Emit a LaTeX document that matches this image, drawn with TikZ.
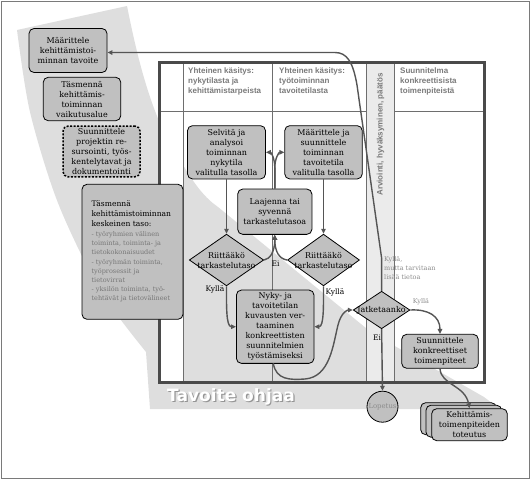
\documentclass[tikz,border=0pt]{standalone}
\usepackage{fontspec}
\setmainfont{DejaVu Serif}
\newfontfamily\hdrfont{Liberation Sans}
\newfontfamily\tavfont{DejaVu Sans}
\usetikzlibrary{arrows.meta,shapes.geometric}
\definecolor{boxgray}{HTML}{C0C0C0}
\definecolor{bandcol}{HTML}{DEDEDE}
\definecolor{framecol}{HTML}{4A4A4A}
\definecolor{conncol}{HTML}{555555}
\definecolor{hdrgray}{HTML}{7A7A7A}
\definecolor{lblgray}{HTML}{8C8C8C}
\definecolor{itemgray}{HTML}{777777}
\definecolor{hatchcol}{HTML}{EBEBEB}
\begin{document}
\begin{tikzpicture}[x=1pt,y=-1pt,
  box/.style={draw=black, line width=0.8pt, fill=boxgray, rounded corners=5pt, inner sep=0pt, align=center, font=\fontsize{8}{10}\selectfont},
  dia/.style={draw=black, line width=0.8pt, fill=boxgray, diamond, inner sep=0pt},
  diatext/.style={inner sep=0pt, align=center, font=\fontsize{8}{10}\selectfont},
  conn/.style={draw=conncol, line width=1.4pt, -{Triangle[length=5pt,width=4.5pt]}},
  hdr/.style={anchor=north west, inner sep=0pt, align=left, text=hdrgray, font=\hdrfont\bfseries\fontsize{8}{10}\selectfont},
  lbl/.style={inner sep=0pt, font=\fontsize{7.5}{9}\selectfont},
  glbl/.style={inner sep=0pt, text=lblgray, align=left, font=\fontsize{6.5}{9.2}\selectfont},
  lane/.style={draw=framecol!80, line width=0.8pt}
]
\useasboundingbox (0,0) rectangle (531,480);
% outer frame
\draw[hdrgray, line width=1.5pt] (1.5,1.5) rectangle (529.5,478.5);
% big curved arrow band
\fill[bandcol] (17,30) -- (127,6) .. controls (135,45) and (150,120) .. (183,165)
  .. controls (195,185) and (205,198) .. (218,207) -- (372,333) -- (484,397) -- (496,406)
  -- (484,409) -- (150,409) -- (146,352)
  -- plot[smooth] coordinates {(146,352) (100,290) (58,203) (30,112) (17,30)} -- cycle;
% swimlane frame
\fill[white] (159.5,62.5) rectangle (183,382);
\fill[hatchcol] (366.7,62.5) rectangle (394.5,382);
\draw[lane] (183,62.5) -- (183,382);
\draw[lane] (272.6,62.5) -- (272.6,382);
\draw[lane] (366.7,62.5) -- (366.7,382);
\draw[lane] (394.5,62.5) -- (394.5,382);
\draw[lane] (159.5,111) -- (366.7,111);
\draw[lane] (394.5,111) -- (484,111);
\draw[framecol, line width=3pt] (159.5,62.5) rectangle (484,382);
% headers
\node[hdr] (h1) at (188,67.5) {Yhteinen käsitys:\\nykytilasta ja\\kehittämistarpeista};
\node[hdr] (h2) at (279,67.5) {Yhteinen käsitys:\\työtoiminnan\\tavoitetilasta};
\node[hdr] (h4) at (400,67.5) {Suunnitelma\\konkreettisista\\toimenpiteistä};
\node[inner sep=0pt, text=hdrgray, rotate=90, font=\hdrfont\bfseries\fontsize{8}{10}\selectfont] (h3) at (380.5,134.5) {Arviointi, hyväksyminen, päätös};
% Tavoite ohjaa
\node[inner sep=0pt, text=hdrgray!80, font=\tavfont\bfseries\fontsize{17}{20}\selectfont] (tavs) at (232.2,397.7) {Tavoite ohjaa};
\node[inner sep=0pt, text=white, font=\tavfont\bfseries\fontsize{17}{20}\selectfont] (tav) at (231,396.5) {Tavoite ohjaa};
% left boxes
\node[box, minimum width=78pt, minimum height=44pt] (b1) at (68,50.5) {Määrittele\\kehittämistoi-\\minnan tavoite};
\node[box, minimum width=77.5pt, minimum height=43.4pt] (b2) at (82,99) {Täsmennä\\kehittämis-\\toiminnan\\vaikutusalue};
\node[box, minimum width=77pt, minimum height=50.7pt, dash pattern=on 2pt off 1.5pt, line width=1.5pt] (b3) at (101.5,151.4) {Suunnittele\\projektin re-\\sursointi, työs-\\kentelytavat ja\\dokumentointi};
\node[box, minimum width=101pt, minimum height=135pt] (b4) at (132.5,251.8) {};
\node[anchor=north west, inner sep=0pt, align=left, font=\fontsize{7.6}{10}\selectfont] (b4t) at (91.4,200.7) {Täsmennä\\kehittämistoiminnan\\keskeinen taso:};
\node[anchor=north west, inner sep=0pt, align=left, text=itemgray, font=\fontsize{6.5}{9.2}\selectfont] (b4g) at (91.4,231.4) {- työryhmien välinen\\toiminta, toiminta- ja\\tietokokonaisuudet\\- työryhmän toiminta,\\työprosessit ja\\tietovirrat\\- yksilön toiminta, työ-\\tehtävät ja tietovälineet};
% lane boxes
\node[box, minimum width=78pt, minimum height=53.3pt] (b5) at (226.5,152.3) {Selvitä ja\\analysoi\\toiminnan\\nykytila\\valitulla tasolla};
\node[box, minimum width=77.5pt, minimum height=53.3pt] (b6) at (323.5,152.3) {Määrittele ja\\suunnittele\\toiminnan\\tavoitetila\\valitulla tasolla};
\node[box, minimum width=74.2pt, minimum height=45.3pt] (b7) at (274.8,211.7) {Laajenna tai\\syvennä\\tarkastelutasoa};
\node[dia, minimum width=74.4pt, minimum height=51.7pt] (d1) at (226.5,260) {};
\node[diatext] (d1t) at (d1) {Riittääkö\\tarkastelutaso};
\node[dia, minimum width=72pt, minimum height=51.7pt] (d2) at (323.5,260) {};
\node[diatext] (d2t) at (d2) {Riittääkö\\tarkastelutaso};
\node[box, minimum width=77.6pt, minimum height=73.3pt] (b8) at (275.2,326.7) {Nyky- ja\\tavoitetilan\\kuvausten ver-\\taaminen\\konkreettisten\\suunnitelmien\\työstämiseksi};
\node[dia, minimum width=56.7pt, minimum height=37.5pt] (d3) at (381.6,310) {};
\node[diatext] (d3t) at (d3) {Jatketaanko};
\node[box, minimum width=76.6pt, minimum height=34pt] (b9) at (440,351.3) {Suunnittele\\konkreettiset\\toimenpiteet};
\node[circle, draw=black, line width=0.8pt, fill=boxgray, minimum size=31pt, inner sep=0pt, text=lblgray, font=\fontsize{6.9}{8}\selectfont] (c1) at (382.5,406.7) {Lopetus};
\node[box, minimum width=75.6pt, minimum height=32pt] (b10c) at (458.5,418.7) {};
\node[box, minimum width=75.6pt, minimum height=32pt] (b10b) at (463.8,421.2) {};
\node[box, minimum width=75.6pt, minimum height=32pt] (b10) at (469.5,424.7) {Kehittämis-\\toimenpiteiden\\toteutus};
% connectors
\draw[conn] (d3.north) -- (381.6,258) -- (357,85) .. controls (353,62) and (347,52.5) .. (335,52.5) -- (b1.east |- 0,52.5);
\draw[conn] (d3.east) .. controls (428,309) and (440,316) .. (b9.north);
\draw[conn] (d3.south) -- (c1.north);
\draw[conn] (273.3,363.3) .. controls (276,380) and (290,380) .. (305,379) .. controls (330,377) and (333,345) .. (338,325) .. controls (341,313) and (347,310) .. (d3.west);
\draw[conn] (b5.south) -- (d1.north);
\draw[conn] (b6.south) -- (d2.north);
\draw[conn] (d1.east) .. controls (270,259) and (274.8,252) .. (b7.south);
\draw[conn] (d2.west) .. controls (279.5,259) and (274.8,252) .. (b7.south);
\draw[conn] (b7.north) -- (274.8,168) .. controls (274.8,158) and (271,152.3) .. (b5.east);
\draw[conn] (b7.north) -- (274.8,168) .. controls (274.8,158) and (279,152.3) .. (b6.west);
\draw[conn] (d1.south) .. controls (226.5,305) and (226,326.7) .. (b8.west);
\draw[conn] (d2.south) .. controls (323.5,305) and (324,326.7) .. (b8.east);
\draw[conn] (b9.south) .. controls (441,385) and (465,385) .. (b10.north);
% labels
\node[lbl] (lei1) at (275.5,263.5) {Ei};
\node[lbl] (lky1) at (215,289.5) {Kyllä};
\node[lbl] (lky2) at (335,292) {Kyllä};
\node[lbl] (lei2) at (377,337.5) {Ei};
\node[glbl] (lky3) at (421,302) {Kyllä};
\node[glbl, anchor=north west] (lmt) at (384,256) {Kyllä,\\mutta tarvitaan\\lisää tietoa};
\end{tikzpicture}
\end{document}
